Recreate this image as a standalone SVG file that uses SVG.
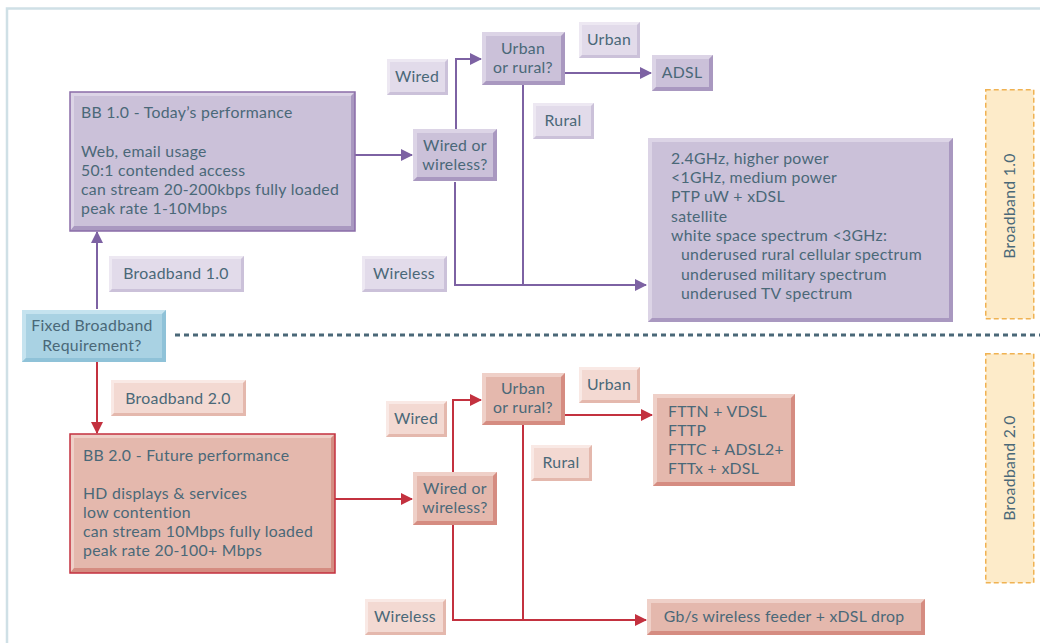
<svg xmlns="http://www.w3.org/2000/svg" width="1040" height="643" viewBox="0 0 1040 643">
<style>
text{font-family:Lato,"Open Sans","Liberation Sans",sans-serif;font-size:15.8px;letter-spacing:0.3px;fill:#4a6878}
.c{text-anchor:middle}
.pm{fill:#cbc1d9}.ph{fill:#dcd4e6}.ps{fill:#a998c0}
.plm{fill:#e2dbea}.plh{fill:#ede8f2}.pls{fill:#cbc1d9}
.rm{fill:#e4b8ad}.rh{fill:#efd0c8}.rs{fill:#d58c81}
.rlm{fill:#f3d9d2}.rlh{fill:#f9e9e5}.rls{fill:#e4b8ad}
.bm{fill:#a9d2e3}.bh{fill:#c5e3ef}.bs{fill:#8fc2d8}
.pl{stroke:#7d62a3;stroke-width:2;fill:none}
.rl{stroke:#c3313f;stroke-width:2;fill:none}
.side{fill:#fdebc9;stroke:#f0b252;stroke-width:1.5;stroke-dasharray:5 3}
</style>
<defs>
<marker id="ap" markerUnits="userSpaceOnUse" markerWidth="12" markerHeight="12" refX="11" refY="6" orient="auto"><path d="M0,0 L12,6 L0,12 z" fill="#7d62a3"/></marker>
<marker id="ar" markerUnits="userSpaceOnUse" markerWidth="12" markerHeight="12" refX="11" refY="6" orient="auto"><path d="M0,0 L12,6 L0,12 z" fill="#c3313f"/></marker>
</defs>
<rect x="0" y="0" width="1040" height="643" fill="#ffffff"/>
<path d="M7,650 L7,8.5 L1045,8.5" fill="none" stroke="#cfe0e6" stroke-width="2.5"/>
<line x1="175" y1="335" x2="1040" y2="335" stroke="#4a6878" stroke-width="3" stroke-dasharray="5 4"/>

<g id="connectors">
<line class="pl" x1="97" y1="309" x2="97" y2="232" marker-end="url(#ap)"/>
<line class="pl" x1="355" y1="155" x2="412" y2="155" marker-end="url(#ap)"/>
<polyline class="pl" points="456,129 456,59 481,59" marker-end="url(#ap)"/>
<line class="pl" x1="565" y1="73" x2="651" y2="73" marker-end="url(#ap)"/>
<line class="pl" x1="523" y1="85" x2="523" y2="285"/>
<polyline class="pl" points="455,182 455,285 646,285" marker-end="url(#ap)"/>
<line class="rl" x1="97" y1="362" x2="97" y2="433" marker-end="url(#ar)"/>
<line class="rl" x1="335" y1="499" x2="412" y2="499" marker-end="url(#ar)"/>
<polyline class="rl" points="453,472 453,400 481,400" marker-end="url(#ar)"/>
<line class="rl" x1="565" y1="415" x2="652" y2="415" marker-end="url(#ar)"/>
<line class="rl" x1="523" y1="425" x2="523" y2="620"/>
<polyline class="rl" points="453,525 453,620 646,620" marker-end="url(#ar)"/>
</g>

<g id="bb1">
<rect class="pm" x="70" y="92" width="285" height="139"/>
<polygon class="ph" points="70,92 355,92 351,96 74,96 74,227 70,231"/>
<polygon class="ps" points="355,92 355,231 70,231 74,226 351,226 351,96"/>
<rect x="70" y="92" width="285" height="139" fill="none" stroke="#8a6ca8" stroke-width="1.5"/>
<text x="81" y="118">BB 1.0 - Today’s performance</text>
<text x="81" y="157">Web, email usage</text>
<text x="81" y="176">50:1 contended access</text>
<text x="81" y="195">can stream 20-200kbps fully loaded</text>
<text x="81" y="214">peak rate 1-10Mbps</text>
</g>

<g id="lbl-bb1">
<rect class="plm" x="109" y="256" width="135" height="36"/>
<polygon class="plh" points="109,256 244,256 241,259 112,259 112,289 109,292"/>
<polygon class="pls" points="244,256 244,292 109,292 112,289 241,289 241,259"/>
<text class="c" x="176" y="279">Broadband 1.0</text>
</g>

<g id="fixed">
<rect class="bm" x="22" y="310" width="144" height="52"/>
<polygon class="bh" points="22,310 166,310 162,314 26,314 26,358 22,362"/>
<polygon class="bs" points="166,310 166,362 22,362 26,358 162,358 162,314"/>
<text class="c" x="92" y="331">Fixed Broadband</text>
<text class="c" x="92" y="351">Requirement?</text>
</g>

<g id="wired1">
<rect class="plm" x="387" y="59" width="61" height="36"/>
<polygon class="plh" points="387,59 448,59 445,62 390,62 390,92 387,95"/>
<polygon class="pls" points="448,59 448,95 387,95 390,92 445,92 445,62"/>
<text class="c" x="417" y="82">Wired</text>
</g>

<g id="ww1">
<rect class="pm" x="413" y="129" width="84" height="52"/>
<polygon class="ph" points="413,129 497,129 493,133 417,133 417,177 413,181"/>
<polygon class="ps" points="497,129 497,181 413,181 417,177 493,177 493,133"/>
<text class="c" x="455" y="151">Wired or</text>
<text class="c" x="455" y="170">wireless?</text>
</g>

<g id="ur1">
<rect class="pm" x="482" y="32" width="83" height="53"/>
<polygon class="ph" points="482,32 565,32 561,36 486,36 486,81 482,85"/>
<polygon class="ps" points="565,32 565,85 482,85 486,81 561,81 561,36"/>
<text class="c" x="523" y="54">Urban</text>
<text class="c" x="523" y="73">or rural?</text>
</g>

<g id="urban1">
<rect class="plm" x="579" y="22" width="61" height="36"/>
<polygon class="plh" points="579,22 640,22 637,25 582,25 582,55 579,58"/>
<polygon class="pls" points="640,22 640,58 579,58 582,55 637,55 637,25"/>
<text class="c" x="609" y="45">Urban</text>
</g>

<g id="adsl">
<rect class="pm" x="652" y="55" width="61" height="36"/>
<polygon class="ph" points="652,55 713,55 709,59 656,59 656,87 652,91"/>
<polygon class="ps" points="713,55 713,91 652,91 656,87 709,87 709,59"/>
<text class="c" x="682" y="78">ADSL</text>
</g>

<g id="rural1">
<rect class="plm" x="533" y="103" width="61" height="36"/>
<polygon class="plh" points="533,103 594,103 591,106 536,106 536,136 533,139"/>
<polygon class="pls" points="594,103 594,139 533,139 536,136 591,136 591,106"/>
<text class="c" x="563" y="126">Rural</text>
</g>

<g id="wireless1">
<rect class="plm" x="362" y="256" width="85" height="36"/>
<polygon class="plh" points="362,256 447,256 444,259 365,259 365,289 362,292"/>
<polygon class="pls" points="447,256 447,292 362,292 365,289 444,289 444,259"/>
<text class="c" x="404" y="279">Wireless</text>
</g>

<g id="wl-options">
<rect class="pm" x="648" y="138" width="305" height="184"/>
<polygon class="ph" points="648,138 953,138 949,142 652,142 652,318 648,322"/>
<polygon class="ps" points="953,138 953,322 648,322 652,318 949,318 949,142"/>
<text x="671" y="164">2.4GHz, higher power</text>
<text x="671" y="183">&lt;1GHz, medium power</text>
<text x="671" y="202">PTP uW + xDSL</text>
<text x="671" y="222">satellite</text>
<text x="671" y="241">white space spectrum &lt;3GHz:</text>
<text x="681" y="260">underused rural cellular spectrum</text>
<text x="681" y="280">underused military spectrum</text>
<text x="681" y="299">underused TV spectrum</text>
</g>

<g id="side1">
<rect class="side" x="985.75" y="89.75" width="48" height="229"/>
<text class="c" transform="translate(1015,206) rotate(-90)">Broadband 1.0</text>
</g>

<g id="lbl-bb2">
<rect class="rlm" x="111" y="380" width="135" height="36"/>
<polygon class="rlh" points="111,380 246,380 243,383 114,383 114,413 111,416"/>
<polygon class="rls" points="246,380 246,416 111,416 114,413 243,413 243,383"/>
<text class="c" x="178" y="404">Broadband 2.0</text>
</g>

<g id="bb2">
<rect class="rm" x="70" y="434" width="265" height="139"/>
<polygon class="rh" points="70,434 335,434 331,438 74,438 74,569 70,573"/>
<polygon class="rs" points="335,434 335,573 70,573 74,568 331,568 331,438"/>
<rect x="70" y="434" width="265" height="139" fill="none" stroke="#c3313f" stroke-width="1.5"/>
<text x="83" y="461">BB 2.0 - Future performance</text>
<text x="83" y="499">HD displays &amp; services</text>
<text x="83" y="518">low contention</text>
<text x="83" y="537">can stream 10Mbps fully loaded</text>
<text x="83" y="556">peak rate 20-100+ Mbps</text>
</g>

<g id="wired2">
<rect class="rlm" x="386" y="401" width="61" height="36"/>
<polygon class="rlh" points="386,401 447,401 444,404 389,404 389,434 386,437"/>
<polygon class="rls" points="447,401 447,437 386,437 389,434 444,434 444,404"/>
<text class="c" x="416" y="424">Wired</text>
</g>

<g id="ww2">
<rect class="rm" x="413" y="472" width="84" height="53"/>
<polygon class="rh" points="413,472 497,472 493,476 417,476 417,521 413,525"/>
<polygon class="rs" points="497,472 497,525 413,525 417,521 493,521 493,476"/>
<text class="c" x="455" y="494">Wired or</text>
<text class="c" x="455" y="513">wireless?</text>
</g>

<g id="ur2">
<rect class="rm" x="482" y="373" width="83" height="52"/>
<polygon class="rh" points="482,373 565,373 561,377 486,377 486,421 482,425"/>
<polygon class="rs" points="565,373 565,425 482,425 486,421 561,421 561,377"/>
<text class="c" x="523" y="394">Urban</text>
<text class="c" x="523" y="413">or rural?</text>
</g>

<g id="urban2">
<rect class="rlm" x="579" y="367" width="61" height="36"/>
<polygon class="rlh" points="579,367 640,367 637,370 582,370 582,400 579,403"/>
<polygon class="rls" points="640,367 640,403 579,403 582,400 637,400 637,370"/>
<text class="c" x="609" y="390">Urban</text>
</g>

<g id="fttx">
<rect class="rm" x="653" y="394" width="142" height="92"/>
<polygon class="rh" points="653,394 795,394 791,398 657,398 657,482 653,486"/>
<polygon class="rs" points="795,394 795,486 653,486 657,482 791,482 791,398"/>
<text x="668" y="417">FTTN + VDSL</text>
<text x="668" y="436">FTTP</text>
<text x="668" y="455">FTTC + ADSL2+</text>
<text x="668" y="474">FTTx + xDSL</text>
</g>

<g id="rural2">
<rect class="rlm" x="531" y="445" width="61" height="36"/>
<polygon class="rlh" points="531,445 592,445 589,448 534,448 534,478 531,481"/>
<polygon class="rls" points="592,445 592,481 531,481 534,478 589,478 589,448"/>
<text class="c" x="561" y="468">Rural</text>
</g>

<g id="wireless2">
<rect class="rlm" x="365" y="599" width="81" height="36"/>
<polygon class="rlh" points="365,599 446,599 443,602 368,602 368,632 365,635"/>
<polygon class="rls" points="446,599 446,635 365,635 368,632 443,632 443,602"/>
<text class="c" x="405" y="622">Wireless</text>
</g>

<g id="gbs">
<rect class="rm" x="647" y="599" width="278" height="36"/>
<polygon class="rh" points="647,599 925,599 921,603 651,603 651,631 647,635"/>
<polygon class="rs" points="925,599 925,635 647,635 651,631 921,631 921,603"/>
<text class="c" x="784" y="622">Gb/s wireless feeder + xDSL drop</text>
</g>

<g id="side2">
<rect class="side" x="985.75" y="353.75" width="48" height="229"/>
<text class="c" transform="translate(1015,468) rotate(-90)">Broadband 2.0</text>
</g>
</svg>
